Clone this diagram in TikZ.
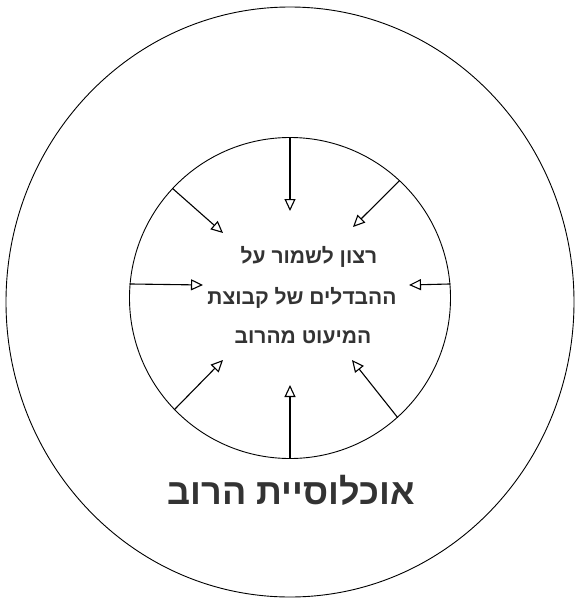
\documentclass[tikz,border=0pt]{standalone}
\usepackage{fontspec}
\setmainfont{Liberation Sans}
\newfontfamily\hebfont[Script=Hebrew]{Liberation Sans}
\TeXXeTstate=1
\usepackage{tikz}
\usetikzlibrary{positioning,shapes.geometric,arrows.meta}

\newcommand{\heb}[1]{\hebfont\beginR #1\endR}

\tikzset{
  ring/.style={draw, line width=0.9pt},
  push/.style={draw, line width=1.1pt, -{Triangle[open, length=12pt, width=11pt]}},
  intext/.style={font=\fontsize{21}{24}\selectfont\bfseries, text=black!80},
}

\begin{document}
\begin{tikzpicture}[x=1pt, y=-1pt]
\useasboundingbox (0,0) rectangle (576,600);

% Circles
\node[ring, ellipse, minimum width=568pt, minimum height=590pt] (outer) at (290,302) {};
\node[ring, circle, minimum size=321pt] (inner) at (290,298) {};

% Text inside the inner circle
\node[intext] (wishA) at (309,257) {\heb{רצון לשמור על}};
\node[intext] (wishB) at (302,298) {\heb{ההבדלים של קבוצת}};
\node[intext] (wishC) at (303,337) {\heb{המיעוט מהרוב}};

% Majority label
\node[font=\fontsize{36}{40}\selectfont\bfseries, text=black!80] (major) at (291,490) {\heb{אוכלוסיית הרוב}};

% Arrow tips
\coordinate (tipN)  at (290,211);
\coordinate (tipS)  at (290,385);
\coordinate (tipW)  at (203,285);
\coordinate (tipE)  at (409,285);
\coordinate (tipNW) at (223,233);
\coordinate (tipNE) at (353,227);
\coordinate (tipSW) at (223,360);
\coordinate (tipSE) at (352,360);

% Pressure from the majority
\draw[push] (inner.90)  -- (tipN);
\draw[push] (inner.270) -- (tipS);
\draw[push] (inner.175) -- (tipW);
\draw[push] (inner.5)   -- (tipE);
\draw[push] (inner.137) -- (tipNW);
\draw[push] (inner.47)  -- (tipNE);
\draw[push] (inner.224) -- (tipSW);
\draw[push] (inner.312) -- (tipSE);

\end{tikzpicture}
\end{document}
